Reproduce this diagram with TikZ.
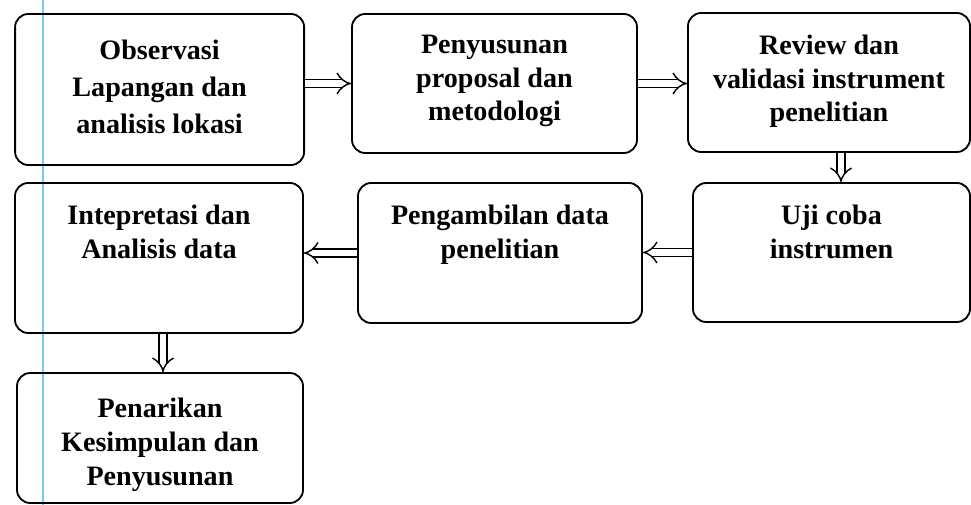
\documentclass[tikz,border=0pt]{standalone}
\usepackage{fontspec}
\setmainfont{Liberation Serif}
\usetikzlibrary{arrows.meta, positioning}
\definecolor{marginblue}{RGB}{118,201,232}

\begin{document}
\begin{tikzpicture}[line width=1.3pt]
\tikzstyle{stage}=[draw=black, rounded corners=0.33cm, inner sep=0pt, align=flush center, font=\bfseries\fontsize{20}{24}\selectfont]
\tikzstyle{flow}=[draw=black, double, double distance=4.5pt, line width=1pt, -{Implies}]

% Specify the size of the page
\useasboundingbox (0,0) rectangle (24.275,-12.625);

% Draw the margin line of the paper
\draw[marginblue, line width=2pt] (1.075,0) -- (1.075,-12.625);

% Draw the first row of stages
\node[stage, text width=7.225cm, text height=1.15cm, text depth=2.625cm, font=\bfseries\fontsize{20}{26}\selectfont] (obs) at (3.99,-2.2375) {Observasi\\Lapangan dan\\analisis lokasi};
\node[stage, text width=7.125cm, text height=1.0cm, text depth=2.475cm, font=\bfseries\fontsize{20}{23.5}\selectfont] (prop) at (12.3625,-2.0875) {Penyusunan\\proposal dan\\metodologi};
\node[stage, text width=7.05cm, text height=1.05cm, text depth=2.425cm, font=\bfseries\fontsize{20}{23.5}\selectfont] (rev) at (20.725,-2.0625) {Review dan\\validasi instrument\\penelitian};

% Draw the second row of stages
\node[stage, text width=6.925cm, text height=1.05cm, text depth=2.425cm] (uji) at (20.7875,-6.3125) {Uji coba\\instrumen};
\node[stage, text width=7.1cm, text height=1.05cm, text depth=2.45cm] (ambil) at (12.5,-6.325) {Pengambilan data\\penelitian};
\node[stage, text width=7.2cm, text height=1.05cm, text depth=2.7cm] (interp) at (3.975,-6.45) {Intepretasi dan\\Analisis data};

% Draw the last stage
\node[stage, text width=7.15cm, text height=1.125cm, text depth=2.125cm] (tarik) at (4.0,-10.95) {Penarikan\\Kesimpulan dan\\Penyusunan};

% Connect the stages in order
\path (prop.west -| obs.east) edge[flow] (prop.west);
\path (prop.east) edge[flow] (prop.east -| rev.west);
\path ([xshift=0.3cm]rev.south) edge[flow] ([xshift=0.3cm]rev.south |- uji.north);
\path (uji.west) edge[flow] (uji.west -| ambil.east);
\path (ambil.west) edge[flow] (ambil.west -| interp.east);
\path ([xshift=0.1cm]interp.south) edge[flow] ([xshift=0.1cm]interp.south |- tarik.north);

\end{tikzpicture}
\end{document}
